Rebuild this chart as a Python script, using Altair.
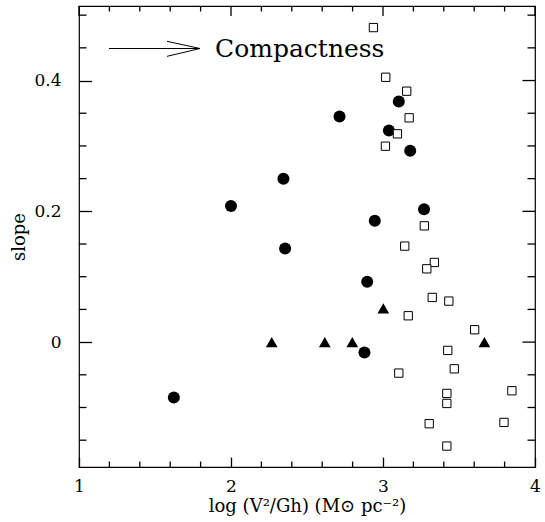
import altair as alt
import pandas as pd

# ---- data ----
circle_x = [1.624, 2.0, 2.345, 2.356, 2.714, 3.104, 3.039, 3.179, 2.946, 3.27, 2.896, 2.878]
circle_y = [-0.0846, 0.208, 0.2497, 0.143, 0.345, 0.368, 0.3236, 0.2925, 0.1855, 0.2033, 0.0922, -0.0158]

tri_x = [2.268, 2.617, 2.798, 3.002, 3.667]
tri_y = [0.0, 0.0, 0.0, 0.0515, 0.0]

sq_x = [2.937, 3.018, 3.156, 3.172, 3.095, 3.016, 3.272, 3.143, 3.338, 3.288, 3.324, 3.433,
        3.166, 3.603, 3.426, 3.469, 3.104, 3.420, 3.420, 3.848, 3.304, 3.796, 3.420]
sq_y = [0.481, 0.405, 0.3837, 0.343, 0.3185, 0.2996, 0.1778, 0.1468, 0.1218, 0.1121, 0.0683, 0.0627,
        0.0403, 0.0189, -0.0127, -0.0408, -0.0474, -0.0785, -0.0938, -0.0744, -0.1248, -0.1228, -0.159]

x_major = [1, 2, 3, 4]
x_minor = [1.2, 1.4, 1.6, 1.8, 2.2, 2.4, 2.6, 2.8, 3.2, 3.4, 3.6, 3.8]
y_major = [0, 0.2, 0.4]
y_minor = [-0.15, -0.1, -0.05, 0.05, 0.1, 0.15, 0.25, 0.3, 0.35, 0.45, 0.5]

arrow_shaft_x = [1.197, 1.796]
arrow_shaft_y = [0.449]
arrow_head_x = [1.579, 1.796, 1.579]
arrow_head_y = [0.460, 0.449, 0.437]
note_text = ["Compactness"]
note_x = [1.895]
note_y = [0.436]

XDOM = [1, 4]
YDOM = [-0.191, 0.514]
FONT = "DejaVu Serif"

circles = pd.DataFrame({"x": circle_x, "y": circle_y})
tris = pd.DataFrame({"x": tri_x, "y": tri_y})
squares = pd.DataFrame({"x": sq_x, "y": sq_y})
shaft = pd.DataFrame({"x": [arrow_shaft_x[0]], "x2": [arrow_shaft_x[1]], "y": arrow_shaft_y})
head = pd.DataFrame({"x": arrow_head_x, "y": arrow_head_y, "o": list(range(len(arrow_head_x)))})
note = pd.DataFrame({"x": note_x, "y": note_y, "t": note_text})

xs = alt.Scale(domain=XDOM, nice=False, zero=False)
ys = alt.Scale(domain=YDOM, nice=False, zero=False)

XT, YT = 10, 12.5     # major tick lengths
XM, YM = 5.5, 7.5     # minor tick lengths
TW = 1.3              # tick line width

# major ticks on bottom/left come from the axes themselves, pulled inside the frame
ax_bottom = alt.Axis(orient="bottom", values=x_major, ticks=True, tickSize=XT, offset=-XT,
                     tickWidth=TW, tickColor="black", labelPadding=11,
                     labelFlush=False, format="d", domain=False, grid=False,
                     title="log (V²/Gh) (M⊙ pc⁻²)", titlePadding=3)
ax_left = alt.Axis(orient="left", values=y_major, ticks=True, tickSize=YT, offset=-YT,
                   tickWidth=TW, tickColor="black", labelPadding=18,
                   format=".1~f", domain=False, grid=False, title="slope", titlePadding=5)


def X(field="x"):
    return alt.X(field, type="quantitative", scale=xs, axis=ax_bottom)


def Y(field="y"):
    return alt.Y(field, type="quantitative", scale=ys, axis=ax_left)


c_layer = alt.Chart(circles).mark_point(shape="circle", filled=True, color="black", size=144,
                                        opacity=1).encode(x=X(), y=Y())
s_layer = alt.Chart(squares).mark_point(shape="square", filled=True, fill="white", stroke="black",
                                        strokeWidth=1, size=69, opacity=1).encode(x=X(), y=Y())
t_layer = alt.Chart(tris).mark_point(shape="triangle-up", filled=True, color="black", size=137,
                                     opacity=1).encode(x=X(), y=Y())
shaft_layer = alt.Chart(shaft).mark_rule(color="black", strokeWidth=1).encode(
    x=X(), x2="x2:Q", y=Y())
head_layer = alt.Chart(head).mark_line(color="black", strokeWidth=1).encode(
    x=X(), y=Y(), order="o:Q")
note_layer = alt.Chart(note).mark_text(align="left", baseline="alphabetic", font=FONT,
                                       fontSize=25, color="black").encode(
    x=X(), y=Y(), text="t:N")


# remaining inward ticks: tick marks on the frame edge, shifted inward by half their length
def xticks(vals, length, edge, sign):
    df = pd.DataFrame({"v": vals})
    return alt.Chart(df).mark_tick(orient="vertical", size=length, thickness=TW,
                                   yOffset=sign * length / 2,
                                   color="black", opacity=1).encode(
        x=X("v"), y=alt.YDatum(edge, type="quantitative", scale=ys, axis=ax_left))


def yticks(vals, length, edge, sign):
    df = pd.DataFrame({"v": vals})
    return alt.Chart(df).mark_tick(orient="horizontal", size=length, thickness=TW,
                                   xOffset=sign * length / 2,
                                   color="black", opacity=1).encode(
        y=Y("v"), x=alt.XDatum(edge, type="quantitative", scale=xs, axis=ax_bottom))


tick_layers = [
    xticks(x_minor, XM, YDOM[0], -1),
    xticks(x_major, XT, YDOM[1], 1), xticks(x_minor, XM, YDOM[1], 1),
    yticks(y_minor, YM, XDOM[0], 1),
    yticks(y_major, YT, XDOM[1], -1), yticks(y_minor, YM, XDOM[1], -1),
]

chart = alt.layer(
    c_layer, s_layer, t_layer, shaft_layer, head_layer, note_layer, *tick_layers
).properties(
    width=456, height=461,
    padding={"left": 79, "top": 6, "right": 10, "bottom": 55},
    autosize=alt.AutoSizeParams(type="none"),
    background="white",
).configure_view(
    stroke="black", strokeWidth=1.2
).configure_axis(
    labelColor="black", titleColor="black",
    labelFont=FONT, titleFont=FONT, labelFontSize=17, titleFontSize=18,
    titleFontWeight="normal",
)

chart.save("out.html", embed_options={"renderer": "svg", "actions": False})
